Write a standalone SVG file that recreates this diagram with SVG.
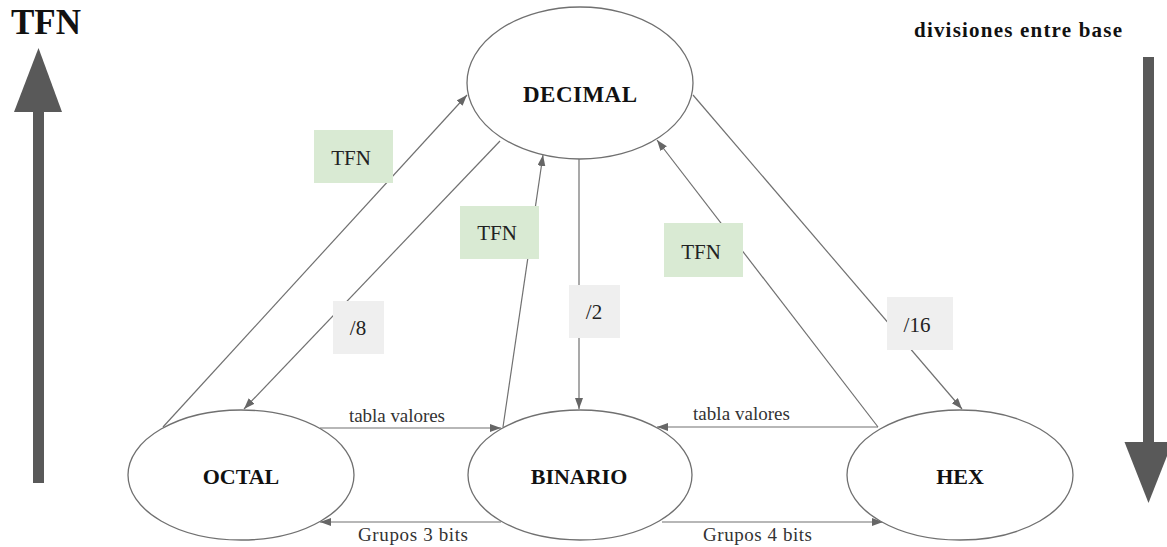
<svg xmlns="http://www.w3.org/2000/svg" width="1167" height="547" viewBox="0 0 1167 547">
  <style>
    .node { fill: #ffffff; stroke: #707070; stroke-width: 1.3; }
    .nlabel { font-family: "Liberation Serif", serif; font-weight: bold; font-size: 22px; fill: #111; text-anchor: middle; }
    .edge { stroke: #707070; stroke-width: 1.2; fill: none; marker-end: url(#ah); }
    .elabel { font-family: "Liberation Serif", serif; font-size: 19px; fill: #333; }
    .green { fill: #d9ead3; }
    .grey { fill: #efefef; }
    .blabel { font-family: "Liberation Serif", serif; font-size: 21px; fill: #222; text-anchor: middle; }
    .big { fill: #595959; }
    .title { font-family: "Liberation Serif", serif; font-weight: bold; fill: #111; }
  </style>
  <defs>
    <marker id="ah" markerUnits="userSpaceOnUse" markerWidth="12" markerHeight="10" refX="11" refY="4" orient="auto">
      <path d="M0,0 L11,4 L0,8 Z" fill="#666"/>
    </marker>
  </defs>
  <rect width="1167" height="547" fill="#ffffff"/>

  <g id="axis-left">
    <rect class="big" x="33" y="110" width="11" height="373"/>
    <polygon class="big" points="14,112 62,112 38.5,48"/>
    <text class="title" x="11" y="34" font-size="35">TFN</text>
  </g>
  <g id="axis-right">
    <rect class="big" x="1143" y="57" width="11" height="387"/>
    <polygon class="big" points="1124.5,442 1172.5,442 1148.5,503"/>
    <text class="title" x="914" y="37" font-size="21" textLength="208" lengthAdjust="spacing">divisiones entre base</text>
  </g>

  <g id="connectors">
    <line class="edge" x1="163" y1="427" x2="467" y2="95"/>
    <line class="edge" x1="500" y1="141" x2="244" y2="409"/>
    <line class="edge" x1="503" y1="427" x2="543" y2="155"/>
    <line class="edge" x1="579" y1="159" x2="579" y2="409"/>
    <line class="edge" x1="878" y1="427" x2="657" y2="140"/>
    <line class="edge" x1="693" y1="95" x2="962" y2="409"/>
    <line class="edge" x1="320" y1="428" x2="501" y2="428"/>
    <line class="edge" x1="878" y1="427" x2="657" y2="427"/>
    <line class="edge" x1="501" y1="522" x2="320" y2="522"/>
    <line class="edge" x1="662" y1="522" x2="883" y2="522"/>
    <text class="elabel" x="349" y="422" textLength="96" lengthAdjust="spacing">tabla valores</text>
    <text class="elabel" x="693" y="420" textLength="97" lengthAdjust="spacing">tabla valores</text>
    <text class="elabel" x="358" y="541" textLength="110" lengthAdjust="spacing">Grupos 3 bits</text>
    <text class="elabel" x="703" y="541" textLength="109" lengthAdjust="spacing">Grupos 4 bits</text>
  </g>

  <g id="label-tfn-1">
    <rect class="green" x="314" y="130" width="79" height="53"/>
    <text class="blabel" x="351" y="165">TFN</text>
  </g>
  <g id="label-tfn-2">
    <rect class="green" x="460" y="206" width="79" height="53"/>
    <text class="blabel" x="497" y="240">TFN</text>
  </g>
  <g id="label-tfn-3">
    <rect class="green" x="664" y="223" width="79" height="54"/>
    <text class="blabel" x="701" y="259">TFN</text>
  </g>
  <g id="label-div8">
    <rect class="grey" x="333" y="301" width="51" height="53"/>
    <text class="blabel" x="358" y="335">/8</text>
  </g>
  <g id="label-div2">
    <rect class="grey" x="569" y="285" width="51" height="53"/>
    <text class="blabel" x="594" y="319">/2</text>
  </g>
  <g id="label-div16">
    <rect class="grey" x="887" y="297" width="66" height="53"/>
    <text class="blabel" x="917" y="332">/16</text>
  </g>

  <g id="node-decimal">
    <ellipse class="node" cx="580" cy="83" rx="113" ry="76"/>
    <text class="nlabel" x="580" y="102" style="font-size:23px" textLength="114" lengthAdjust="spacing">DECIMAL</text>
  </g>
  <g id="node-octal">
    <ellipse class="node" cx="241" cy="475" rx="113" ry="65"/>
    <text class="nlabel" x="241" y="484">OCTAL</text>
  </g>
  <g id="node-binario">
    <ellipse class="node" cx="580" cy="475" rx="112" ry="65"/>
    <text class="nlabel" x="579" y="484">BINARIO</text>
  </g>
  <g id="node-hex">
    <ellipse class="node" cx="960" cy="475" rx="113" ry="65"/>
    <text class="nlabel" x="960" y="484">HEX</text>
  </g>
</svg>
